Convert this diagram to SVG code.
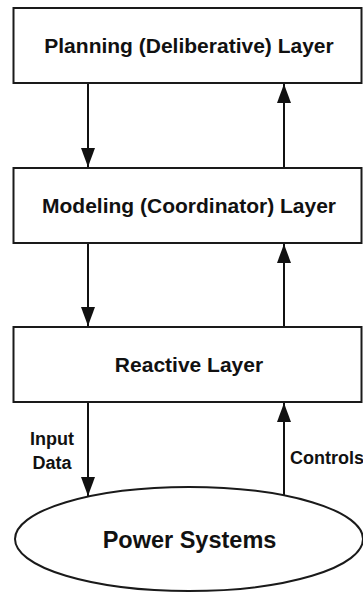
<svg xmlns="http://www.w3.org/2000/svg" width="363" height="594" viewBox="0 0 363 594">
  <style>
    .box { fill: #ffffff; stroke: #1a1a1a; stroke-width: 2; }
    .oval { fill: #ffffff; stroke: #1a1a1a; stroke-width: 2; }
    .title { font-family: "Liberation Sans", Arial, sans-serif; font-weight: bold; font-size: 21px; fill: #111111; text-anchor: middle; }
    .big { font-family: "Liberation Sans", Arial, sans-serif; font-weight: bold; font-size: 23.5px; fill: #111111; text-anchor: middle; }
    .label { font-family: "Liberation Sans", Arial, sans-serif; font-weight: bold; font-size: 18px; fill: #111111; }
    .wire { stroke: #111111; stroke-width: 2; fill: none; marker-end: url(#head); }
  </style>
  <defs>
    <marker id="head" markerUnits="userSpaceOnUse" markerWidth="20" markerHeight="14" viewBox="0 0 20 14" refX="19" refY="7" orient="auto">
      <path d="M0,0 L19,7 L0,14 Z" fill="#111111"/>
    </marker>
  </defs>

  <rect width="363" height="594" fill="#ffffff"/>

  <!-- connectors between layers -->
  <g id="connectors">
    <line class="wire" x1="88" y1="84" x2="88" y2="167"/>
    <line class="wire" x1="284" y1="167" x2="284" y2="84"/>
    <line class="wire" x1="88" y1="244" x2="88" y2="326"/>
    <line class="wire" x1="284" y1="326" x2="284" y2="244"/>
    <line class="wire" x1="88" y1="403" x2="88" y2="496"/>
    <line class="wire" x1="284" y1="495" x2="284" y2="403"/>
    <text class="label" x="52" y="445" text-anchor="middle">Input</text>
    <text class="label" x="52" y="468.5" text-anchor="middle">Data</text>
    <text class="label" x="290" y="463.5" font-size="16">Controls</text>
  </g>

  <g id="planning">
    <rect class="box" x="13.5" y="8" width="348" height="75"/>
    <text class="title" x="189" y="53">Planning (Deliberative) Layer</text>
  </g>

  <g id="modeling">
    <rect class="box" x="13.5" y="168" width="348" height="75"/>
    <text class="title" x="189" y="213">Modeling (Coordinator) Layer</text>
  </g>

  <g id="reactive">
    <rect class="box" x="13.5" y="327" width="348" height="75"/>
    <text class="title" x="189" y="371.5">Reactive Layer</text>
  </g>

  <g id="power-systems">
    <ellipse class="oval" cx="189" cy="539" rx="174" ry="52"/>
    <text class="big" x="189.5" y="547.5">Power Systems</text>
  </g>
</svg>
